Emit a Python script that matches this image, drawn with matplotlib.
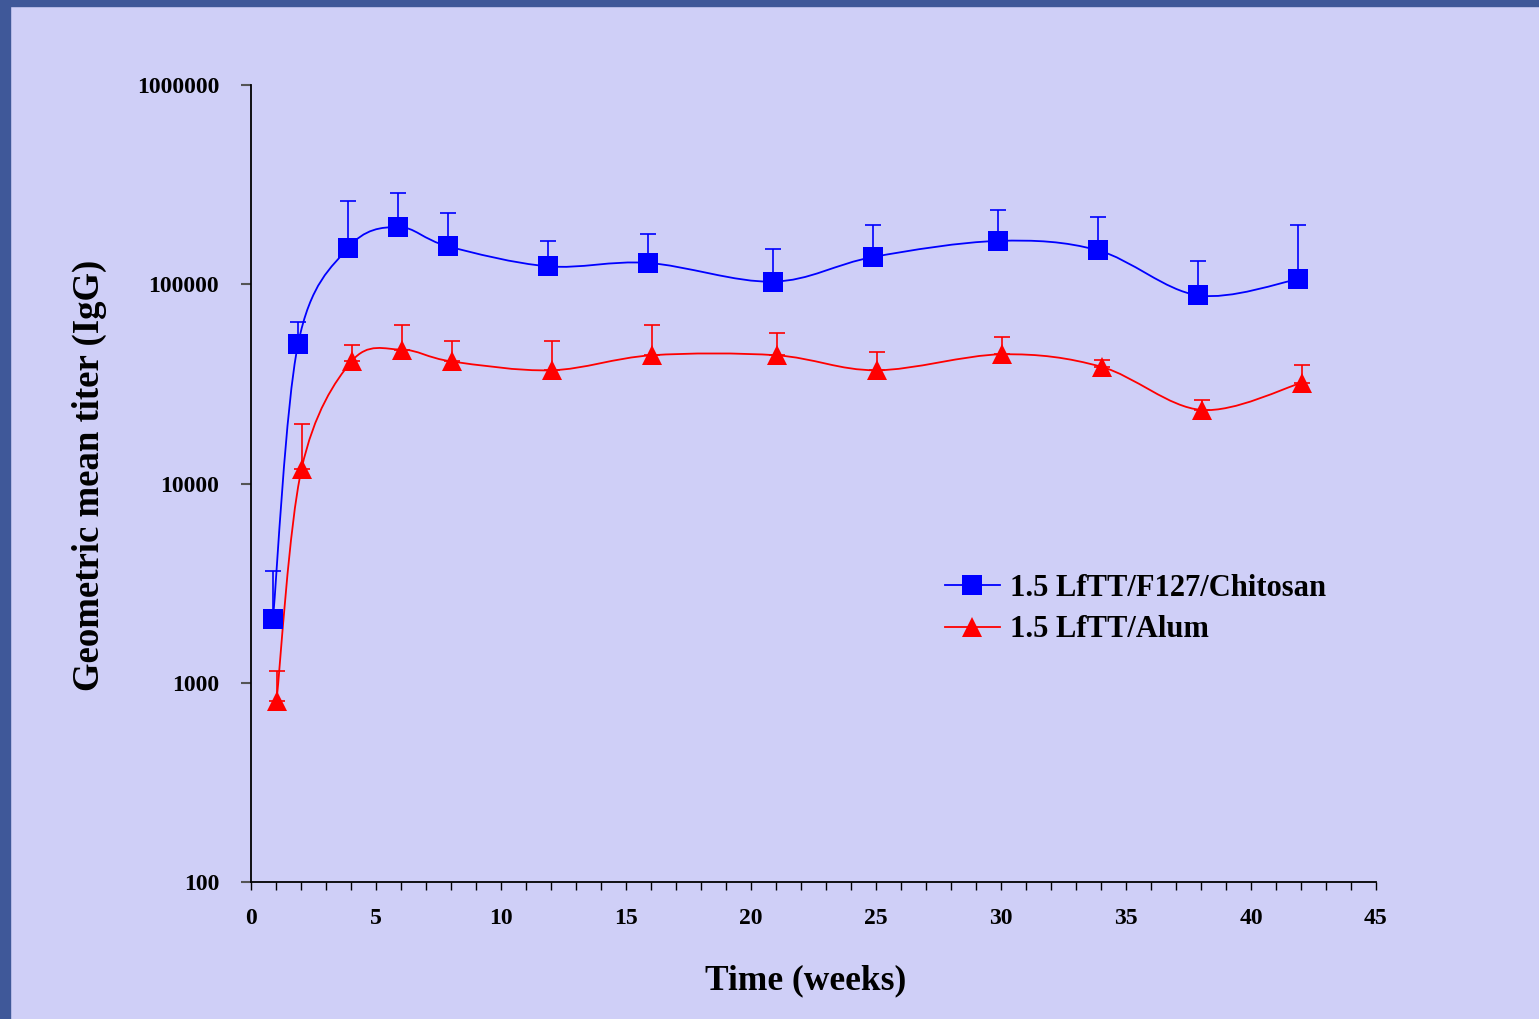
import numpy as np
import matplotlib
matplotlib.use("Agg")
import matplotlib.pyplot as plt
import matplotlib.lines as mlines
from matplotlib.path import Path
from matplotlib.patches import PathPatch, Rectangle
from matplotlib.ticker import FixedLocator, MultipleLocator, NullLocator

# data
weeks = [1, 2, 4, 6, 8, 12, 16, 21, 25, 30, 34, 38, 42]

chitosan_gmt = [2100, 50000, 152000, 194000, 155000, 123000, 128000,
                103000, 137000, 165000, 148000, 88000, 106000]
chitosan_upper = [3650, 65000, 262000, 287000, 228000, 165000, 179000,
                  150000, 199000, 236000, 218000, 131000, 199000]

alum_gmt = [810, 11800, 41000, 47000, 41000, 37000, 44000,
            44000, 37000, 44500, 38500, 23400, 32000]
alum_upper = [1150, 19900, 49600, 62500, 52000, 52000, 62500,
              57000, 45500, 54500, 41700, 26200, 39400]

labels = ["1.5 LfTT/F127/Chitosan", "1.5 LfTT/Alum"]
ytick_vals = [100, 1000, 10000, 100000, 1000000]
ytick_text = ["100", "1000", "10000", "100000", "1000000"]

BG = "#CFCFF7"
EDGE = "#3F5899"
SERIF = ["Liberation Serif", "DejaVu Serif"]


def smooth_path(x, y):
    # excel-like smoothed line: catmull-rom bezier in (x, log y) space
    x = np.asarray(x, float)
    ly = np.log10(np.asarray(y, float))
    n = len(x)
    verts = [(x[0], 10 ** ly[0])]
    codes = [Path.MOVETO]
    for i in range(n - 1):
        i0 = max(i - 1, 0)
        i3 = min(i + 2, n - 1)
        c1 = (x[i] + (x[i + 1] - x[i0]) / 6, ly[i] + (ly[i + 1] - ly[i0]) / 6)
        c2 = (x[i + 1] - (x[i3] - x[i]) / 6, ly[i + 1] - (ly[i3] - ly[i]) / 6)
        verts += [(c1[0], 10 ** c1[1]), (c2[0], 10 ** c2[1]), (x[i + 1], 10 ** ly[i + 1])]
        codes += [Path.CURVE4] * 3
    return Path(verts, codes)


fig = plt.figure(figsize=(15.39, 10.19), dpi=100, facecolor=BG)
fig.patches.append(Rectangle((0, 0), 10 / 1539, 1, transform=fig.transFigure,
                             color=EDGE, zorder=-1))
fig.patches.append(Rectangle((0, 1 - 6 / 1019), 1, 6 / 1019, transform=fig.transFigure,
                             color=EDGE, zorder=-1))

ax = fig.add_axes([251 / 1539, 1 - 882 / 1019, 1125 / 1539, 797 / 1019])
ax.set_facecolor(BG)
ax.set_yscale("log")
ax.set_xlim(0, 45)
ax.set_ylim(100, 1000000)

series = [
    (np.array(weeks) - 0.12, chitosan_gmt, chitosan_upper, "#0000FF", "s", 14),
    (np.array(weeks) + 0.02, alum_gmt, alum_upper, "#FF0000", "^", 15),
]
for xs, gmt, upper, color, marker, ms in series:
    err = np.array(upper) - np.array(gmt)
    ax.errorbar(xs, gmt, yerr=[np.zeros_like(err), err], fmt="none",
                ecolor=color, elinewidth=1.2, capsize=6, capthick=1.2, zorder=2)
    ax.add_patch(PathPatch(smooth_path(xs, gmt), fill=False, edgecolor=color,
                           lw=1.3, zorder=3))
    ax.plot(xs, gmt, linestyle="none", color=color, marker=marker,
            markersize=ms, markeredgewidth=0, zorder=4)

for s in ["top", "right"]:
    ax.spines[s].set_visible(False)
for s in ["left", "bottom"]:
    ax.spines[s].set_linewidth(1.3)

ax.xaxis.set_major_locator(MultipleLocator(5))
ax.xaxis.set_minor_locator(MultipleLocator(1))
ax.yaxis.set_major_locator(FixedLocator(ytick_vals))
ax.yaxis.set_minor_locator(NullLocator())
ax.set_yticklabels(ytick_text)
ax.tick_params(axis="x", which="both", direction="out", length=6, width=1, pad=13)
ax.tick_params(axis="y", which="major", direction="out", length=7, width=1.5,
               color="#555555", pad=16)
for lab in ax.get_xticklabels() + ax.get_yticklabels():
    lab.set_fontfamily(SERIF)
    lab.set_fontweight("bold")
    lab.set_fontsize(17)

ax.set_xlabel("Time (weeks)", fontfamily=SERIF, fontweight="bold", fontsize=25.5)
ax.xaxis.set_label_coords(0.493, -0.103)
ax.set_ylabel("Geometric mean titer (IgG)", fontfamily=SERIF, fontweight="bold",
              fontsize=26.5)
ax.yaxis.set_label_coords(-0.128, 0.51)

leg_handles = [
    mlines.Line2D([], [], color="#0000FF", lw=1.3, marker="s", markersize=14, markeredgewidth=0),
    mlines.Line2D([], [], color="#FF0000", lw=1.3, marker="^", markersize=15, markeredgewidth=0),
]
ax.legend(leg_handles, labels, loc="center left",
          bbox_to_anchor=(917 / 1539, 1 - 609 / 1019), bbox_transform=fig.transFigure,
          frameon=False, prop={"family": SERIF, "weight": "bold", "size": 22},
          handlelength=1.8, handletextpad=0.35, labelspacing=0.42)

fig.savefig("out.png", dpi=100, facecolor=BG)
